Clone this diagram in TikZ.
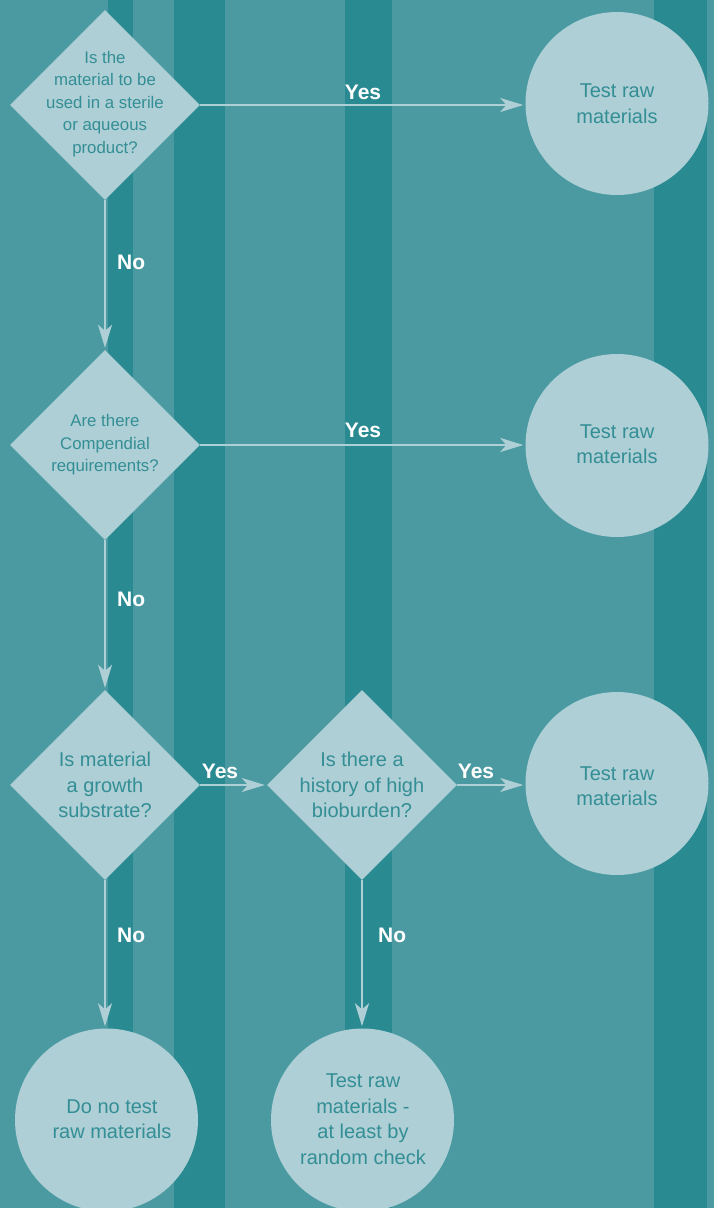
\documentclass[tikz,border=0pt]{standalone}
\usepackage{fontspec}
\setmainfont{Liberation Sans}
\usetikzlibrary{shapes.geometric,arrows.meta}
\definecolor{bgbase}{HTML}{4B9AA2}
\definecolor{bgdark}{HTML}{2A8A91}
\definecolor{shapefill}{HTML}{ADCFD5}
\definecolor{shapetext}{HTML}{348E95}
\tikzset{
  decision/.style={diamond,fill=shapefill,draw=none,minimum width=190pt,minimum height=190pt,inner sep=0pt,aspect=1},
  outcome/.style={circle,fill=shapefill,draw=none,minimum size=183pt,inner sep=0pt},
  smalltext/.style={text=shapetext,align=center,font=\fontsize{16.8}{22.5}\selectfont},
  bigtext/.style={text=shapetext,align=center,font=\fontsize{20}{25.5}\selectfont},
  conn/.style={draw=shapefill,line width=2pt,-{Stealth[length=23pt,width=14pt,inset=6pt]},shorten >=2pt},
  lab/.style={text=white,font=\bfseries\fontsize{21}{22}\selectfont,inner sep=0pt}
}
\begin{document}
\begin{tikzpicture}[x=1pt,y=-1pt]
\useasboundingbox (0,0) rectangle (714,1208);
\fill[bgbase] (0,0) rectangle (714,1208);
\fill[bgdark] (108,0) rectangle (133,1208);
\fill[bgdark] (174,0) rectangle (225,1208);
\fill[bgdark] (345,0) rectangle (392,1208);
\fill[bgdark] (654,0) rectangle (707,1208);
% decisions
\node[decision] (d1) at (105,105) {};
\node[smalltext] (d1t) at (105,104) {Is the\\material to be\\used in a sterile\\or aqueous\\product?};
\node[decision] (d2) at (105,445) {};
\node[smalltext] (d2t) at (105,445) {Are there\\Compendial\\requirements?};
\node[decision] (d3) at (105,785) {};
\node[bigtext] (d3t) at (105,785) {Is material\\a growth\\substrate?};
\node[decision] (d4) at (362,785) {};
\node[bigtext] (d4t) at (362,785) {Is there a\\history of high\\bioburden?};
% outcomes
\node[outcome] (c1) at (617,103.5) {};
\node[bigtext] (c1t) at (617,103.5) {Test raw\\materials};
\node[outcome] (c2) at (617,445.5) {};
\node[bigtext] (c2t) at (617,444) {Test raw\\materials};
\node[outcome] (c3) at (617,783.5) {};
\node[bigtext] (c3t) at (617,786) {Test raw\\materials};
\node[outcome] (c4) at (106.5,1120) {};
\node[bigtext] (c4t) at (112,1119) {Do no test\\raw materials};
\node[outcome] (c5) at (362.5,1120) {};
\node[bigtext] (c5t) at (363,1119) {Test raw\\materials -\\at least by\\random check};
% connectors
\draw[conn] (d1.east) -- (c1.west |- d1.east);
\draw[conn] (d1.south) -- (d2.north);
\draw[conn] (d2.east) -- (c2.west |- d2.east);
\draw[conn] (d2.south) -- (d3.north);
\draw[conn] (d3.east) -- (d4.west);
\draw[conn] (d4.east) -- (c3.west |- d4.east);
\draw[conn] (d3.south) -- (c4.north -| d3.south);
\draw[conn] (d4.south) -- (c5.north -| d4.south);
% labels
\node[lab] (l1) at (363,92) {Yes};
\node[lab,anchor=west] (l2) at (117,262) {No};
\node[lab] (l3) at (363,430) {Yes};
\node[lab,anchor=west] (l4) at (117,599) {No};
\node[lab] (l5) at (220,771) {Yes};
\node[lab] (l6) at (476,771) {Yes};
\node[lab,anchor=west] (l7) at (117,935) {No};
\node[lab,anchor=west] (l8) at (378,935) {No};
\end{tikzpicture}
\end{document}
